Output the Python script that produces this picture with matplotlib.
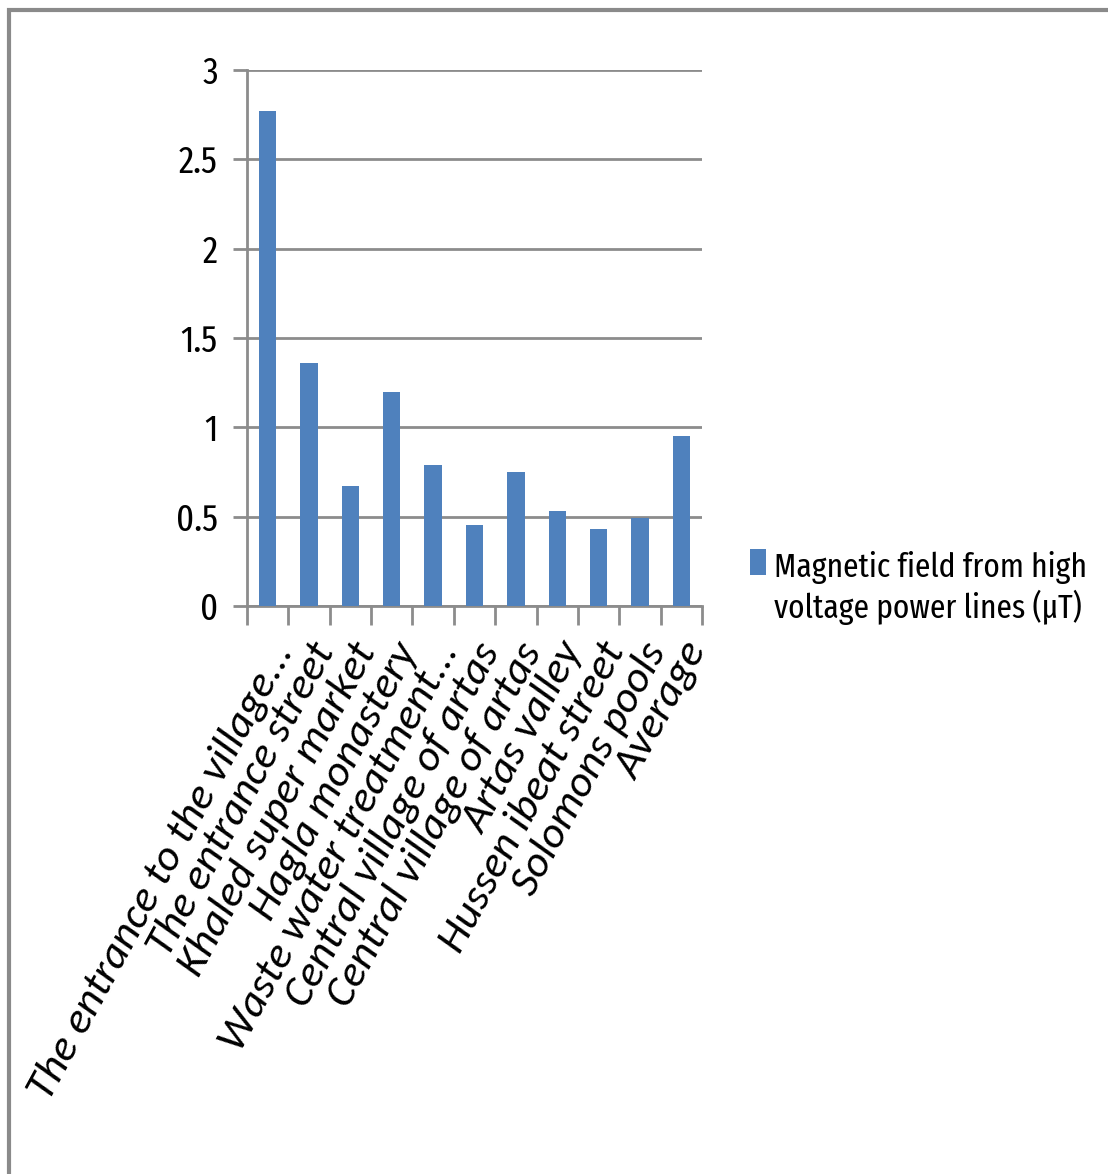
import matplotlib.pyplot as plt
import numpy as np
from matplotlib.patches import Rectangle
from matplotlib.ticker import FixedLocator
from matplotlib.legend_handler import HandlerPatch

locations = [
    "The entrance to the village...",
    "The entrance street",
    "Khaled super market",
    "Hagla monastery",
    "Waste water treatment...",
    "Central village of artas",
    "Central village of artas",
    "Artas valley",
    "Hussen ibeat street",
    "Solomons pools",
    "Average",
]
field_uT = [2.77, 1.36, 0.67, 1.2, 0.79, 0.455, 0.75, 0.53, 0.43, 0.49, 0.95]
series_name = "Magnetic field from high\nvoltage power lines (\u00b5T)"
y_ticks = [0, 0.5, 1, 1.5, 2, 2.5, 3]
y_tick_labels = ["0", "0.5", "1", "1.5", "2", "2.5", "3"]

narrow = ["Fira Sans Extra Condensed", "DejaVu Sans"]
plt.rcParams["font.family"] = narrow
grey = "#8c8c8c"
blue = "#4f81bd"


def first_line_box(legend, orig_handle, xdescent, ydescent, width, height, fontsize):
    # legend key sits beside the first line of the wrapped label
    return Rectangle((-xdescent, -ydescent + 0.8 * fontsize), width, height)


fig = plt.figure(figsize=(11.08, 11.74), dpi=100)
ax = fig.add_axes([0.2229, 0.4838, 0.4107, 0.4566])

x = np.arange(len(locations))
ax.bar(x, field_uT, width=0.42, color=blue, zorder=3)

ax.set_xlim(-0.5, len(locations) - 0.5)
ax.set_ylim(0, 3)
ax.set_yticks(y_ticks)
ax.set_yticklabels(y_tick_labels)
ax.yaxis.grid(True, color=grey, linewidth=2, zorder=0)
ax.tick_params(axis="y", length=10, width=2, color=grey, pad=11, labelsize=27)

ax.set_xticks(x)
ax.set_xticklabels(locations, rotation=61.5, ha="right", va="top",
                   rotation_mode="anchor", style="italic", fontsize=32,
                   family=["Carlito", "DejaVu Sans"])
ax.tick_params(axis="x", which="major", length=0, pad=22)
ax.xaxis.set_minor_locator(FixedLocator(np.arange(-0.5, len(locations), 1)))
ax.tick_params(axis="x", which="minor", length=14, width=2, color=grey)

for side in ["top", "right"]:
    ax.spines[side].set_visible(False)
for side in ["left", "bottom"]:
    ax.spines[side].set_color(grey)
    ax.spines[side].set_linewidth(2)

key = Rectangle((0, 0), 1, 1, facecolor=blue, edgecolor="none")
ax.legend([key], [series_name], loc="center left",
          bbox_to_anchor=(0.649, 0.499), bbox_transform=fig.transFigure,
          frameon=False, fontsize=24.5, handlelength=0.47, handleheight=0.8,
          handletextpad=0.24, labelspacing=0.2,
          handler_map={key: HandlerPatch(patch_func=first_line_box)})

# outer chart frame
fig.patches.append(Rectangle((9 / 1108, -0.1), 1.2, 1.1 - 10 / 1174,
                             transform=fig.transFigure, fill=False,
                             edgecolor="#8a8a8a", linewidth=3))

fig.savefig("out.png", dpi=100)
